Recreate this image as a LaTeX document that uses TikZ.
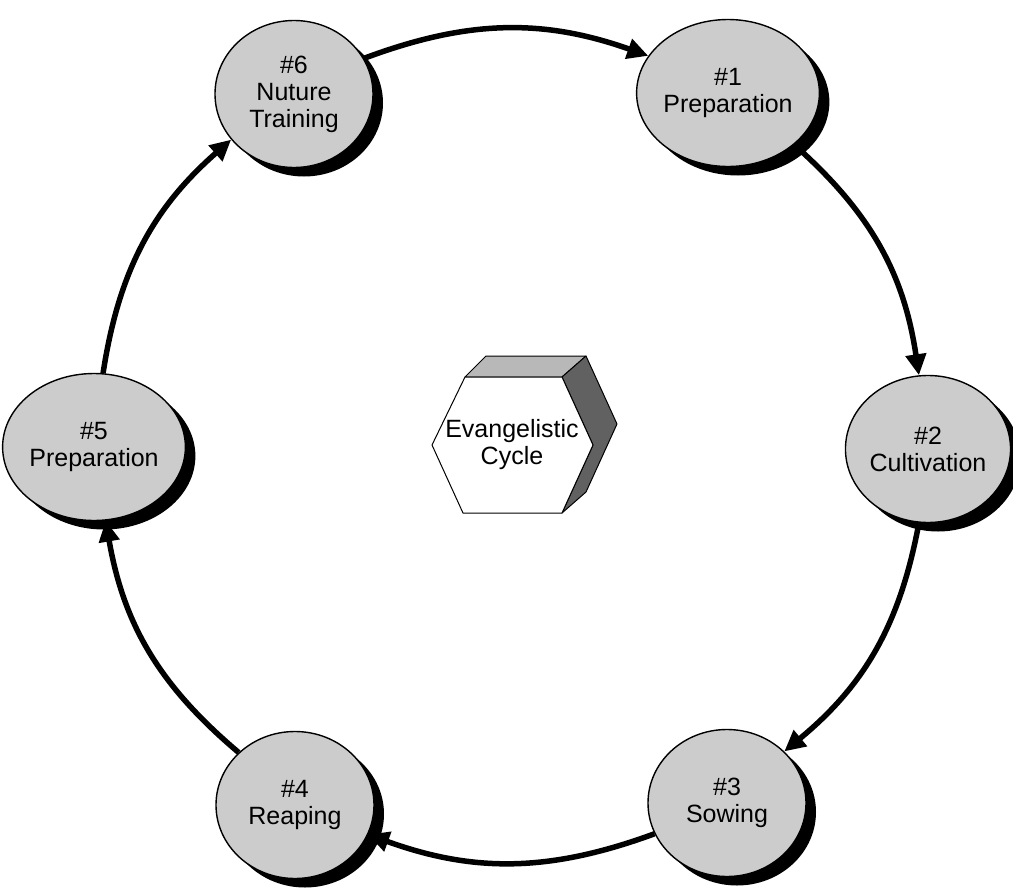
\documentclass[tikz,border=0pt]{standalone}
\usepackage{fontspec}
\setmainfont{Liberation Sans}
\usepackage{tikz}
\usetikzlibrary{shapes.geometric, arrows.meta, shadows}
\tikzset{
    stagebox/.style={ellipse, minimum width=158pt, minimum height=147pt, inner sep=0pt,
        draw=black, line width=1.4pt, fill=black!20, align=center,
        font=\fontsize{25}{27}\selectfont,
        drop shadow={shadow xshift=10pt, shadow yshift=-9pt, fill=black, opacity=1}},
    cyclearrow/.style={-{Triangle[length=21pt, width=20pt]}, line width=5.5pt, black, bend left=20},
    hexface/.style={draw=black, line width=1pt, line join=round},
}

\begin{document}
\begin{tikzpicture}[x=1pt, y=-1pt]
    \useasboundingbox (0,0) rectangle (1013,889);

    % the six stages
    \node[stagebox] (n6) at (294,94) {\#6\\Nuture\\Training};
    \node[stagebox] (n1) at (728,93) {\#1\\Preparation};
    \node[stagebox] (n2) at (928,449) {\#2\\Cultivation};
    \node[stagebox] (n3) at (727,803) {\#3\\Sowing};
    \node[stagebox] (n4) at (295,805) {\#4\\Reaping};
    \node[stagebox] (n5) at (94,447) {\#5\\Preparation};

    % hexagon block in the middle
    \filldraw[hexface, fill=black!28] (465,377) -- (486,356) -- (586,356) -- (562,377) -- cycle;
    \filldraw[hexface, fill=black!62] (562,377) -- (586,356) -- (617,424) -- (586,492) -- (562,513) -- (593,445) -- cycle;
    \filldraw[hexface, fill=white] (432,445) -- (465,377) -- (562,377) -- (593,445) -- (562,513) -- (463,513) -- cycle;
    \node[align=center, font=\fontsize{25}{27}\selectfont] (hub) at (512,445) {Evangelistic\\Cycle};

    \draw[cyclearrow] (n6.27) to (n1.155);
    \draw[cyclearrow] (n1.-38) to (n2.97);
    \draw[cyclearrow] (n2.-97) to (n3.42);
    \draw[cyclearrow] (n3.203) to (n4.-22);
    \draw[cyclearrow] (n4.137) to (n5.-81);
    \draw[cyclearrow] (n5.83) to (n6.216);
\end{tikzpicture}
\end{document}
